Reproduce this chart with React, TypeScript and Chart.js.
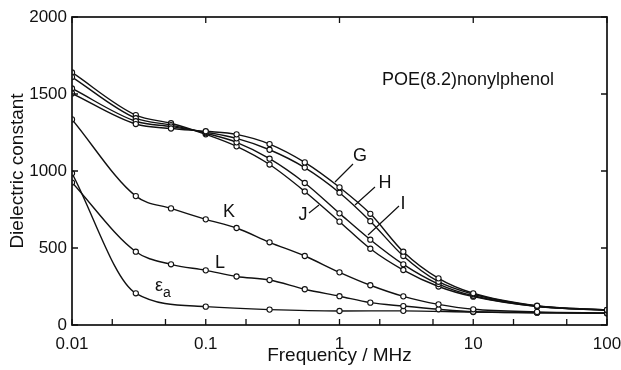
import React, { useEffect, useRef } from 'react';
import { Chart, registerables } from 'chart.js';

Chart.register(...registerables);

// ---- data ----
const freqs = [0.01, 0.03, 0.055, 0.1, 0.17, 0.3, 0.55, 1, 1.7, 3, 5.5, 10, 30, 100];
const epsFreqs = [0.01, 0.03, 0.1, 0.3, 1, 3, 10, 30, 100];

const seriesG = [1504, 1305, 1276, 1258, 1238, 1175, 1056, 894, 722, 476, 303, 206, 125, 98];
const seriesH = [1536, 1323, 1288, 1252, 1212, 1138, 1022, 859, 674, 448, 281, 200, 123, 97];
const seriesI = [1610, 1343, 1298, 1245, 1186, 1080, 922, 725, 554, 394, 266, 190, 121, 96];
const seriesJ = [1640, 1363, 1310, 1238, 1160, 1042, 867, 671, 495, 357, 250, 184, 120, 95];
const seriesK = [1335, 837, 757, 686, 630, 537, 448, 342, 258, 186, 134, 102, 85, 78];
const seriesL = [925, 476, 394, 355, 315, 292, 232, 187, 145, 123, 102, 86, 80, 76];
const seriesEps = [985, 206, 119, 100, 91, 92, 84, 80, 76];

const xTickValues = [0.01, 0.1, 1, 10, 100];
const xTickLabels = ['0.01', '0.1', '1', '10', '100'];
const xMinorTicks = [0.02, 0.05, 0.2, 0.5, 2, 5, 20, 50];
const yTickValues = [0, 500, 1000, 1500, 2000];

const titleText = 'POE(8.2)nonylphenol';
const xTitle = 'Frequency / MHz';
const yTitle = 'Dielectric constant';

const FONT = "'Liberation Sans', Arial, sans-serif";
const INK = '#111';

function mk(label: string, xs: number[], ys: number[]) {
  return {
    label,
    data: xs.map((x, i) => ({ x, y: ys[i] })),
    showLine: true,
    borderColor: INK,
    borderWidth: 1.4,
    pointRadius: 2.6,
    pointBackgroundColor: '#fff',
    pointBorderColor: INK,
    pointBorderWidth: 1.1,
    cubicInterpolationMode: 'monotone' as const,
    fill: false,
  };
}

const framePlugin = {
  id: 'frame',
  afterDatasetsDraw(chart: any) {
    const { ctx, chartArea: a, scales } = chart;
    const xs = scales.x;
    const ys = scales.y;
    ctx.save();
    ctx.strokeStyle = INK;
    ctx.lineWidth = 1.7;
    ctx.strokeRect(a.left, a.top, a.right - a.left, a.bottom - a.top);
    ctx.lineWidth = 1.3;
    ctx.beginPath();
    const tl = 6;
    [...xTickValues, ...xMinorTicks].forEach((v) => {
      const px = xs.getPixelForValue(v);
      ctx.moveTo(px, a.bottom);
      ctx.lineTo(px, a.bottom - tl);
    });
    xTickValues.forEach((v) => {
      const px = xs.getPixelForValue(v);
      ctx.moveTo(px, a.top);
      ctx.lineTo(px, a.top + tl);
    });
    yTickValues.forEach((v) => {
      const py = ys.getPixelForValue(v);
      ctx.moveTo(a.left, py);
      ctx.lineTo(a.left + tl, py);
      ctx.moveTo(a.right, py);
      ctx.lineTo(a.right - tl, py);
    });
    ctx.stroke();

    // annotations
    ctx.fillStyle = INK;
    ctx.textAlign = 'center';
    ctx.textBaseline = 'middle';
    ctx.font = `18px ${FONT}`;
    ctx.fillText(titleText, 468, 80);
    const letters: [string, number, number][] = [
      ['G', 360, 156],
      ['H', 385, 183],
      ['I', 403, 204],
      ['J', 303, 215],
      ['K', 229, 212],
      ['L', 220, 263],
    ];
    letters.forEach(([t, x, y]) => ctx.fillText(t, x, y));
    ctx.font = `18px ${FONT}`;
    ctx.fillText('ε', 159, 286);
    ctx.font = `14px ${FONT}`;
    ctx.fillText('a', 167, 293);

    ctx.lineWidth = 1.2;
    ctx.beginPath();
    const leaders = [
      [353, 164, 335, 182],
      [375, 187, 355, 205],
      [399, 206, 368, 235],
      [309, 213, 319, 205],
    ];
    leaders.forEach(([x1, y1, x2, y2]) => {
      ctx.moveTo(x1, y1);
      ctx.lineTo(x2, y2);
    });
    ctx.stroke();
    ctx.restore();
  },
};

export default function App() {
  const ref = useRef<HTMLCanvasElement | null>(null);
  useEffect(() => {
    document.body.style.margin = '0';
    const canvas = ref.current;
    if (!canvas) return;
    const chart = new Chart(canvas, {
      type: 'scatter',
      data: {
        datasets: [
          mk('G', freqs, seriesG),
          mk('H', freqs, seriesH),
          mk('I', freqs, seriesI),
          mk('J', freqs, seriesJ),
          mk('K', freqs, seriesK),
          mk('L', freqs, seriesL),
          mk('εa', epsFreqs, seriesEps),
        ],
      },
      options: {
        responsive: false,
        animation: false,
        layout: { padding: { top: 17, right: 14, left: 0, bottom: 0 } },
        plugins: { legend: { display: false }, tooltip: { enabled: false } },
        scales: {
          x: {
            type: 'logarithmic',
            min: 0.01,
            max: 100,
            afterBuildTicks: (s: any) => {
              s.ticks = xTickValues.map((v) => ({ value: v }));
            },
            afterFit: (s: any) => {
              s.height = 45;
              s.paddingLeft = 0;
              s.paddingRight = 0;
            },
            ticks: {
              autoSkip: false,
              maxRotation: 0,
              padding: 9,
              color: INK,
              font: { size: 17, family: FONT },
              callback: (v: any) => {
                const i = xTickValues.findIndex((t) => Math.abs(t - Number(v)) < 1e-9);
                return i >= 0 ? xTickLabels[i] : '';
              },
            },
            grid: { display: false, drawTicks: false },
            border: { display: false },
            title: {
              display: true,
              text: xTitle,
              color: INK,
              font: { size: 19, family: FONT },
              padding: { top: 0, bottom: 3 },
            },
          },
          y: {
            min: 0,
            max: 2000,
            afterBuildTicks: (s: any) => {
              s.ticks = yTickValues.map((v) => ({ value: v }));
            },
            afterFit: (s: any) => {
              s.width = 72;
              s.paddingTop = 0;
              s.paddingBottom = 0;
            },
            ticks: {
              padding: 5,
              color: INK,
              font: { size: 17, family: FONT },
              callback: (v: any) => String(v),
            },
            grid: { display: false, drawTicks: false },
            border: { display: false },
            title: {
              display: true,
              text: yTitle,
              color: INK,
              font: { size: 19, family: FONT },
              padding: { top: 6, bottom: 0 },
            },
          },
        },
      },
      plugins: [framePlugin],
    } as any);
    return () => chart.destroy();
  }, []);
  return (
    <div style={{ width: 621, height: 370, background: '#fff' }}>
      <canvas ref={ref} width={621} height={370} style={{ display: 'block' }} />
    </div>
  );
}
